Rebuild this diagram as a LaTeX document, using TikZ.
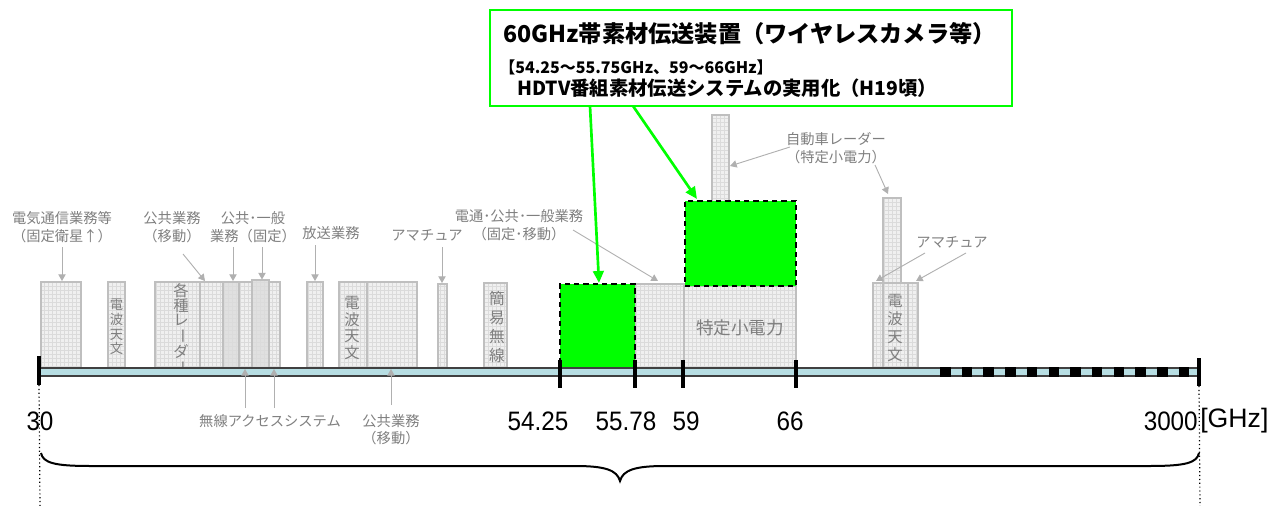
\documentclass[tikz,border=0pt]{standalone}
\usepackage{fontspec}
\setmainfont{Liberation Sans}
\newfontfamily\jp{Noto Sans CJK JP}
\usetikzlibrary{arrows.meta,fit,patterns}
\definecolor{lbl}{HTML}{7F7F7F}
\definecolor{bandline}{HTML}{BFBFBF}
\definecolor{bandfill}{HTML}{F0F0F0}
\definecolor{bandfilldk}{HTML}{E0E0E0}
\definecolor{axisfill}{HTML}{B7DEE3}
\definecolor{axisline}{HTML}{404040}
\definecolor{grn}{HTML}{00FF00}
\definecolor{arrgray}{HTML}{B0B0B0}
\tikzset{
  band/.style={draw=bandline, line width=1.1pt, preaction={fill=bandfill}, pattern=grid, pattern color=black!14, inner sep=0pt, outer sep=0pt},
  banddk/.style={band, preaction={fill=bandfilldk}},
  greenrect/.style={fill=grn, draw=black, line width=1.5pt, dash pattern=on 4pt off 3pt, inner sep=0pt, outer sep=0pt},
  lbltext/.style={text=lbl, font=\jp\fontsize{10.7}{13.5}\selectfont, align=center, inner sep=0pt},
  vtext/.style={text=lbl, align=center, inner sep=0pt},
  axislbl/.style={font=\fontsize{20}{22}\selectfont, inner sep=0pt},
  garrow/.style={draw=arrgray, line width=0.7pt, -{Triangle[length=5pt,width=5.5pt]}},
  grnarrow/.style={draw=grn, line width=2pt, -{Triangle[length=9pt,width=8pt]}},
  tick/.style={line width=3.4pt, draw=black},
}
\newcommand\narrow[1]{\scalebox{0.91}[1]{#1}}
\begin{document}
\begin{tikzpicture}[x=0.75pt,y=-0.75pt]
\useasboundingbox (0,0) rectangle (1285,506);

% gray frequency bands
\node[band, fit={(41,282)(81,368)}] (A) {};
\node[band, fit={(108,282)(125,368)}] (B) {};
\node[band, fit={(155,282)(200,368)}] (C) {};
\node[band, fit={(200,282)(223,368)}] (D) {};
\node[banddk, fit={(223,282)(239,368)}] (E) {};
\node[band, fit={(239,282)(252,368)}] (F) {};
\node[banddk, fit={(252,280)(269,368)}] (G) {};
\node[band, fit={(269,282)(280,368)}] (H) {};
\node[band, fit={(307,282)(323,368)}] (I) {};
\node[band, fit={(339,282)(367,368)}] (J) {};
\node[band, fit={(367,282)(417,368)}] (K) {};
\node[band, fit={(438,284)(447,368)}] (Lr) {};
\node[band, fit={(484,283)(507,368)}] (M) {};
\node[band, fit={(635,284)(684,368)}] (N) {};
\node[band, fit={(684,286)(796,368)}] (O) {};
\node[band, fit={(712,115)(729,286)}] (P) {};
\node[band, fit={(883,198)(901,283)}] (Q) {};
\node[band, fit={(873,283)(883,368)}] (R1) {};
\node[band, fit={(883,283)(908,368)}] (R2) {};
\node[band, fit={(908,283)(918,368)}] (R3) {};

% green bands
\node[greenrect, fit={(560,284)(635,368)}] (GL) {};
\node[greenrect, fit={(685,201)(796,286)}] (GR) {};

% vertical texts in bands
\node[vtext, font=\jp\fontsize{10}{10.9}\selectfont] (tB) at (116.5,327) {電\\波\\天\\文};
\node[vtext, font=\jp\fontsize{11.5}{10.3}\selectfont] (tC) at (181,329.5) {各\\種\\レ\\\rotatebox[origin=c]{-90}{ー}\\ダ\\\rotatebox[origin=c]{-90}{ー}};
\node[vtext, font=\jp\fontsize{11.5}{12.5}\selectfont] (tJ) at (352,328) {電\\波\\天\\文};
\node[vtext, font=\jp\fontsize{11.75}{14.2}\selectfont] (tM) at (497,327) {簡\\易\\無\\線};
\node[vtext, font=\jp\fontsize{11.5}{13.3}\selectfont] (tR) at (895,328) {電\\波\\天\\文};
\node[vtext, font=\jp\fontsize{13.2}{15}\selectfont] (tO) at (740,328) {特定小電力};

% axis
\fill[axisfill] (38,368) rectangle (1199,376);
\draw[axisline, line width=1.1pt] (38,368) -- (1199,368);
\draw[axisline, line width=1.1pt] (38,376) -- (1199,376);
\foreach \i in {0,...,11} {
  \fill[black] (940+\i*21.7,366.5) rectangle (950.5+\i*21.7,377);
}
\coordinate (t30a) at (39,356);   \coordinate (t30b) at (39,385);
\coordinate (t54a) at (560,360);  \coordinate (t54b) at (560,388);
\coordinate (t55a) at (635,360);  \coordinate (t55b) at (635,388);
\coordinate (t59a) at (683,360);  \coordinate (t59b) at (683,388);
\coordinate (t66a) at (796,360);  \coordinate (t66b) at (796,388);
\coordinate (t3ka) at (1199,358); \coordinate (t3kb) at (1199,386);
\draw[tick] (t30a) -- (t30b);
\draw[tick] (t54a) -- (t54b);
\draw[tick] (t55a) -- (t55b);
\draw[tick] (t59a) -- (t59b);
\draw[tick] (t66a) -- (t66b);
\draw[tick] (t3ka) -- (t3kb);

% axis labels
\node[axislbl] (n30) at (40,421) {\narrow{30}};
\node[axislbl] (n54) at (538,421) {\narrow{54.25}};
\node[axislbl] (n55) at (626,421) {\narrow{55.78}};
\node[axislbl] (n59) at (686,421) {\narrow{59}};
\node[axislbl] (n66) at (790,421) {\narrow{66}};
\node[axislbl, anchor=east] (n3k) at (1198,421) {\narrow{3000}};
\node[axislbl, anchor=west] (nghz) at (1200,421) {[GHz]};

% dotted guides
\coordinate (d30) at (40,506);
\coordinate (d3k) at (1200,506);
\draw[dotted, line width=0.9pt] (t30b) -- (d30);
\draw[dotted, line width=0.9pt] (t3kb) -- (d3k);

% brace
\draw[line width=1.5pt] (41,453) .. controls (43,463) and (55,466) .. (90,466) -- (575,466)
  .. controls (605,466) and (617,470) .. (620,481)
  .. controls (623,470) and (635,466) .. (665,466) -- (1150,466)
  .. controls (1185,466) and (1197,463) .. (1199,453);

% gray labels
\node[lbltext] (L1) at (62,227) {電気通信業務等\\（固定衛星↑）};
\node[lbltext] (L2) at (172,227) {公共業務\\（移動）};
\node[lbltext] (L3) at (253,227) {公共･一般\\業務（固定）};
\node[lbltext] (L4) at (331,233) {放送業務};
\node[lbltext] (L5) at (427,235) {アマチュア};
\node[lbltext] (L6) at (519,225.5) {電通･公共･一般業務\\（固定･移動）};
\node[lbltext] (L7) at (836,148.5) {自動車レーダー\\（特定小電力）};
\node[lbltext] (L8) at (952,242) {アマチュア};
\node[lbltext] (L9) at (270,421) {無線アクセスシステム};
\node[lbltext, font=\jp\fontsize{10.7}{12.8}\selectfont] (L10) at (391,429.5) {公共業務\\（移動）};

% gray arrows
\coordinate (a1s) at (62,247);  \coordinate (a1e) at (62,281);
\coordinate (a2s) at (183,254); \coordinate (a2e) at (205,281);
\coordinate (a3s) at (233,247); \coordinate (a3e) at (233,281);
\coordinate (a4s) at (262,247); \coordinate (a4e) at (262,279.5);
\coordinate (a5s) at (315,245); \coordinate (a5e) at (315,281);
\coordinate (a6s) at (442,247); \coordinate (a6e) at (442,283);
\coordinate (a7s) at (573,230); \coordinate (a7e) at (658,281);
\coordinate (a8s) at (790,147); \coordinate (a8e) at (730,166);
\coordinate (a9s) at (875,165); \coordinate (a9e) at (888,194);
\coordinate (a10s) at (925,253); \coordinate (a10e) at (876,281);
\coordinate (a11s) at (966,253); \coordinate (a11e) at (916,281);
\coordinate (a12s) at (245,408); \coordinate (a12e) at (245,369);
\coordinate (a13s) at (274,408); \coordinate (a13e) at (274,369);
\coordinate (a14s) at (391,405); \coordinate (a14e) at (391,369);
\foreach \k in {1,...,14} { \draw[garrow] (a\k s) -- (a\k e); }

% green callout
\node[draw=grn, line width=1.5pt, fit={(490,10)(1012,106)}, inner sep=0pt] (box) {};
\node[anchor=west, inner sep=0pt, font=\jp\bfseries\fontsize{17.4}{20}\selectfont] (g1) at (503,34) {60GHz帯素材伝送装置（ワイヤレスカメラ等）};
\node[anchor=west, inner sep=0pt, font=\jp\bfseries\fontsize{12}{14}\selectfont] (g2) at (499,67) {【54.25～55.75GHz、59～66GHz】};
\node[anchor=west, inner sep=0pt, font=\jp\bfseries\fontsize{14.5}{16}\selectfont] (g3) at (517,88) {HDTV番組素材伝送システムの実用化（H19頃）};
\coordinate (ga1s) at (590,106); \coordinate (ga1e) at (599,283);
\coordinate (ga2s) at (633,106); \coordinate (ga2e) at (697,199);
\draw[grnarrow] (ga1s) -- (ga1e);
\draw[grnarrow] (ga2s) -- (ga2e);
\end{tikzpicture}
\end{document}
